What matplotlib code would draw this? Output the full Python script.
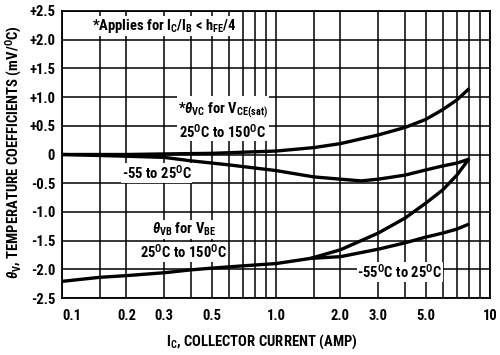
import matplotlib
matplotlib.use("Agg")
import matplotlib.pyplot as plt
from matplotlib import font_manager

FONT = "Roboto"
for cand in ["Liberation Sans Narrow", "Roboto Condensed", "Open Sans Condensed", "Roboto"]:
    try:
        font_manager.findfont(cand, fallback_to_default=False)
        FONT = cand
        break
    except Exception:
        pass

plt.rcParams['font.family'] = [FONT, 'DejaVu Sans']
plt.rcParams['font.weight'] = 'bold'
plt.rcParams['mathtext.fontset'] = 'custom'
plt.rcParams['mathtext.rm'] = FONT + ':bold'
plt.rcParams['mathtext.it'] = FONT + ':italic:bold'
plt.rcParams['mathtext.bf'] = FONT + ':bold'

# ---- data ----
vc_hot_x = [0.1, 0.2, 0.3, 0.5, 0.7, 1.0, 1.5, 2.0, 3.0, 4.0, 5.0, 6.0, 7.0, 8.0]
vc_hot_y = [0.0, 0.0, 0.01, 0.02, 0.04, 0.06, 0.12, 0.19, 0.34, 0.47, 0.61, 0.78, 0.95, 1.15]

vc_cold_x = [0.1, 0.2, 0.3, 0.4, 0.6, 1.0, 1.5, 2.0, 2.5, 3.0, 4.0, 5.0, 6.0, 7.0, 8.0]
vc_cold_y = [0.0, -0.03, -0.05, -0.11, -0.18, -0.28, -0.39, -0.43, -0.46, -0.43, -0.36, -0.27, -0.20, -0.15, -0.08]

vb_common_x = [0.1, 0.15, 0.2, 0.3, 0.4, 0.5, 0.7, 1.0, 1.45]
vb_common_y = [-2.21, -2.14, -2.11, -2.06, -2.01, -1.98, -1.94, -1.90, -1.81]

vb_hot_x = [1.45, 2.0, 3.0, 4.0, 5.0, 6.0, 7.0, 8.0]
vb_hot_y = [-1.81, -1.66, -1.37, -1.11, -0.85, -0.62, -0.36, -0.07]

vb_cold_x = [1.45, 2.0, 3.0, 4.0, 5.0, 6.0, 7.0, 8.0]
vb_cold_y = [-1.81, -1.78, -1.65, -1.54, -1.44, -1.37, -1.30, -1.21]

x_major = [0.1, 0.2, 0.3, 0.5, 1.0, 2.0, 3.0, 5.0, 10.0]
x_major_labels = ["0.1", "0.2", "0.3", "0.5", "1.0", "2.0", "3.0", "5.0", "10"]
x_minor = [0.15, 0.4, 0.6, 0.7, 0.8, 0.9, 1.5, 4.0, 6.0, 7.0, 8.0, 9.0]
y_ticks = [2.5, 2.0, 1.5, 1.0, 0.5, 0.0, -0.5, -1.0, -1.5, -2.0, -2.5]
y_labels = ["+2.5", "+2.0", "+1.5", "+1.0", "+0.5", "0", "-0.5", "-1.0", "-1.5", "-2.0", "-2.5"]

# ---- figure ----
fig = plt.figure(figsize=(5.0, 3.55), dpi=100)
ax = fig.add_axes([62/500, 1-298/355, 428/500, 287/355])
ax.set_xscale('log')
ax.set_xlim(0.1, 10)
ax.set_ylim(-2.5, 2.5)

ax.set_xticks(x_major)
ax.set_xticklabels(x_major_labels)
ax.set_xticks(x_minor, minor=True)
ax.set_xticklabels([], minor=True)
ax.set_yticks(y_ticks)
ax.set_yticklabels(y_labels)
ax.tick_params(which='both', length=0, labelsize=10.5, colors='black')
ax.tick_params(axis='x', pad=8)
ax.tick_params(axis='y', pad=5)
lbl = ax.get_xticklabels()
lbl[0].set_horizontalalignment('left')
for l in ax.get_xticklabels() + ax.get_yticklabels():
    l.set_fontweight('bold')

ax.grid(True, which='both', color='black', lw=1.1)
ax.set_axisbelow(True)
for s in ax.spines.values():
    s.set_linewidth(1.3)
    s.set_color('black')

lw = 2.4
for xs, ys in [(vc_hot_x, vc_hot_y), (vc_cold_x, vc_cold_y), (vb_common_x, vb_common_y),
               (vb_hot_x, vb_hot_y), (vb_cold_x, vb_cold_y)]:
    ax.plot(xs, ys, color='black', lw=lw, solid_capstyle='butt', zorder=3)

box = dict(facecolor='white', edgecolor='none', pad=0.5)
fs = 10.5
ax.text(0.138, 2.24, r'*Applies for I$_{\rm C}$/I$_{\rm B}$ < h$_{\rm FE}$/4',
        ha='left', va='center', fontsize=fs, bbox=box, zorder=4)
ax.text(0.565, 0.59,
        r'*$\theta_{\rm VC}$ for V$_{\rm CE(sat)}$' + '\n' + r'25$^{\rm O}$C to 150$^{\rm O}$C',
        ha='center', va='center', multialignment='center', linespacing=1.15,
        fontsize=fs, bbox=box, zorder=4)
ax.text(0.277, -0.32, r'-55 to 25$^{\rm O}$C',
        ha='center', va='center', fontsize=fs, bbox=box, zorder=4)
ax.text(0.37, -1.30, r'$\theta_{\rm VB}$ for V$_{\rm BE}$',
        ha='center', va='center', fontsize=fs, bbox=box, zorder=4)
ax.text(0.37, -1.70, r'25$^{\rm O}$C to 150$^{\rm O}$C',
        ha='center', va='center', fontsize=fs, bbox=box, zorder=4)
ax.text(3.79, -2.05, r'-55$^{\rm O}$C to 25$^{\rm O}$C',
        ha='center', va='center', fontsize=fs, bbox=box, zorder=4)

fig.text(262/500, 1-342/355, r'I$_{\rm C}$, COLLECTOR CURRENT (AMP)',
         ha='center', va='center', fontsize=10.5, fontweight='bold')
fig.text(14/500, 1-152/355, r'$\theta_{\rm V}$, TEMPERATURE COEFFICIENTS (mV/$^{\rm O}$C)',
         ha='center', va='center', rotation=90, fontsize=10.5, fontweight='bold')

fig.savefig('out.png', dpi=100)
